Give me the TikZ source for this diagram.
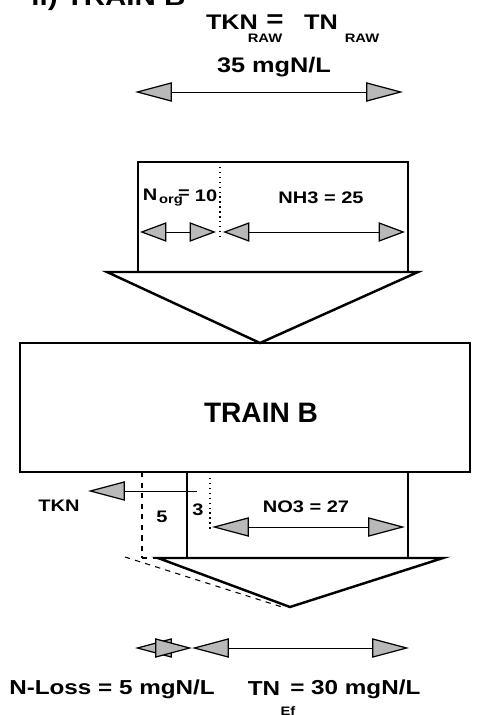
\documentclass[tikz,border=0pt]{standalone}
\usepackage{fontspec}
\setmainfont[FakeStretch=1.2]{Liberation Sans}
\newfontfamily\boxfont{Liberation Sans}
\usetikzlibrary{arrows.meta}

\tikzset{
	fat/.tip={Triangle[length=21pt,width=11pt,fill=gray!55,line width=0.7pt]},
	slim/.tip={Triangle[length=15pt,width=11pt,fill=gray!55,line width=0.7pt]},
	dim/.style={thin,fat-fat},
	dimsmall/.style={thin,slim-slim},
	wall/.style={line width=1.6pt},
	rim/.style={line width=1.4pt,fill=white,line join=miter},
	lbl/.style={inner sep=0pt,font=\bfseries\fontsize{9.5}{11}\selectfont},
	sub/.style={inner sep=0pt,font=\bfseries\fontsize{7}{8}\selectfont},
	toplbl/.style={inner sep=0pt,font=\bfseries\fontsize{12}{14}\selectfont},
	big/.style={inner sep=0pt,font=\bfseries\fontsize{11.5}{13}\selectfont},
}

\begin{document}
\begin{tikzpicture}[x=0.02cm,y=-0.02cm]
	\useasboundingbox (0,0) rectangle (485,715);

	% heading, cut at the top edge
	\node[anchor=base west,inner sep=0pt,font=\bfseries\fontsize{14}{16}\selectfont] (title) at (31,6) {ii) TRAIN B};

	\node[toplbl] (tkn) at (232,22) {TKN};
	\node[sub] (tknsub) at (265,38) {RAW};
	\node[toplbl,font=\bfseries\fontsize{14}{14}\selectfont] (eq) at (275,21) {=};
	\node[toplbl] (tn) at (321,22) {TN};
	\node[sub] (tnsub) at (362,38) {RAW};
	\node[toplbl] (raw) at (274,67) {35 mgN/L};

	% corners
	\coordinate (c1) at (138,162);
	\coordinate (c2) at (408,272);
	\coordinate (v1) at (107,272);
	\coordinate (v2) at (418,272);
	\coordinate (v3) at (260,343);
	\coordinate (m1) at (20,343);
	\coordinate (m2) at (470,472);
	\coordinate (w1) at (158,558);
	\coordinate (w2) at (443,558);
	\coordinate (w3) at (290,607);

	% influent block
	\draw[wall] (c1) rectangle (c2);
	\draw[dotted,thick] (220,162) -- (220,238);
	\filldraw[rim] (v1) -- (v2) -- (v3) -- cycle;

	% train
	\draw[wall] (m1) rectangle (m2);
	\node[inner sep=0pt,font=\boxfont\bfseries\fontsize{16}{18}\selectfont] (train) at (261,413) {TRAIN B};

	% effluent block
	\draw[dashed,semithick] (142,472) -- (142,558);
	\draw[wall] (187,472) -- (187,558);
	\draw[wall] (408,472) -- (408,558);
	\draw[dotted,thick] (210,478) -- (210,530);
	\filldraw[rim] (w1) -- (w2) -- (w3) -- cycle;
	\draw[dashed,semithick] (142,558) -- (w1);
	\draw[dashed,semithick] (125,557) -- (282,607);

	% arrow ends
	\coordinate (r1) at (135,92);
	\coordinate (r2) at (403,92);
	\coordinate (g1) at (140,232);
	\coordinate (g2) at (216,232);
	\coordinate (h1) at (223,232);
	\coordinate (h2) at (405,232);
	\coordinate (k1) at (212,527);
	\coordinate (k2) at (405,527);
	\coordinate (t1) at (197,491);
	\coordinate (t2) at (88,491);
	\coordinate (l1) at (135,648);
	\coordinate (l2) at (192,648);
	\coordinate (e2) at (409,648);

	\foreach \i / \j in {
	r1/r2,
	k1/k2,
	l1/l2,
	l2/e2}
	{
		\path (\i) edge[dim] (\j);
	};
	\foreach \i / \j in {g1/g2, h1/h2}
	{
		\path (\i) edge[dimsmall] (\j);
	};
	\path (t1) edge[thin,-fat] (t2);

	% labels in the blocks
	\node[lbl] (norg) at (150,195) {N};
	\node[sub] (orgsub) at (171,201) {org};
	\node[lbl] (orgeq) at (184,194) {=};
	\node[lbl] (orgval) at (206,196) {10};
	\node[lbl] (nh) at (321,198) {NH3 = 25};
	\node[lbl] (tknout) at (59,506) {TKN};
	\node[lbl] (loss) at (162,517) {5};
	\node[lbl] (rest) at (198,510) {3};
	\node[lbl] (no) at (306,507) {NO3 = 27};

	% effluent values
	\node[big] (nloss) at (112,689) {N-Loss = 5 mgN/L};
	\node[big] (tnef) at (264,689) {TN};
	\node[sub] (efsub) at (288,711) {Ef};
	\node[big,anchor=west] (tnval) at (290,689) {= 30 mgN/L};
\end{tikzpicture}
\end{document}
